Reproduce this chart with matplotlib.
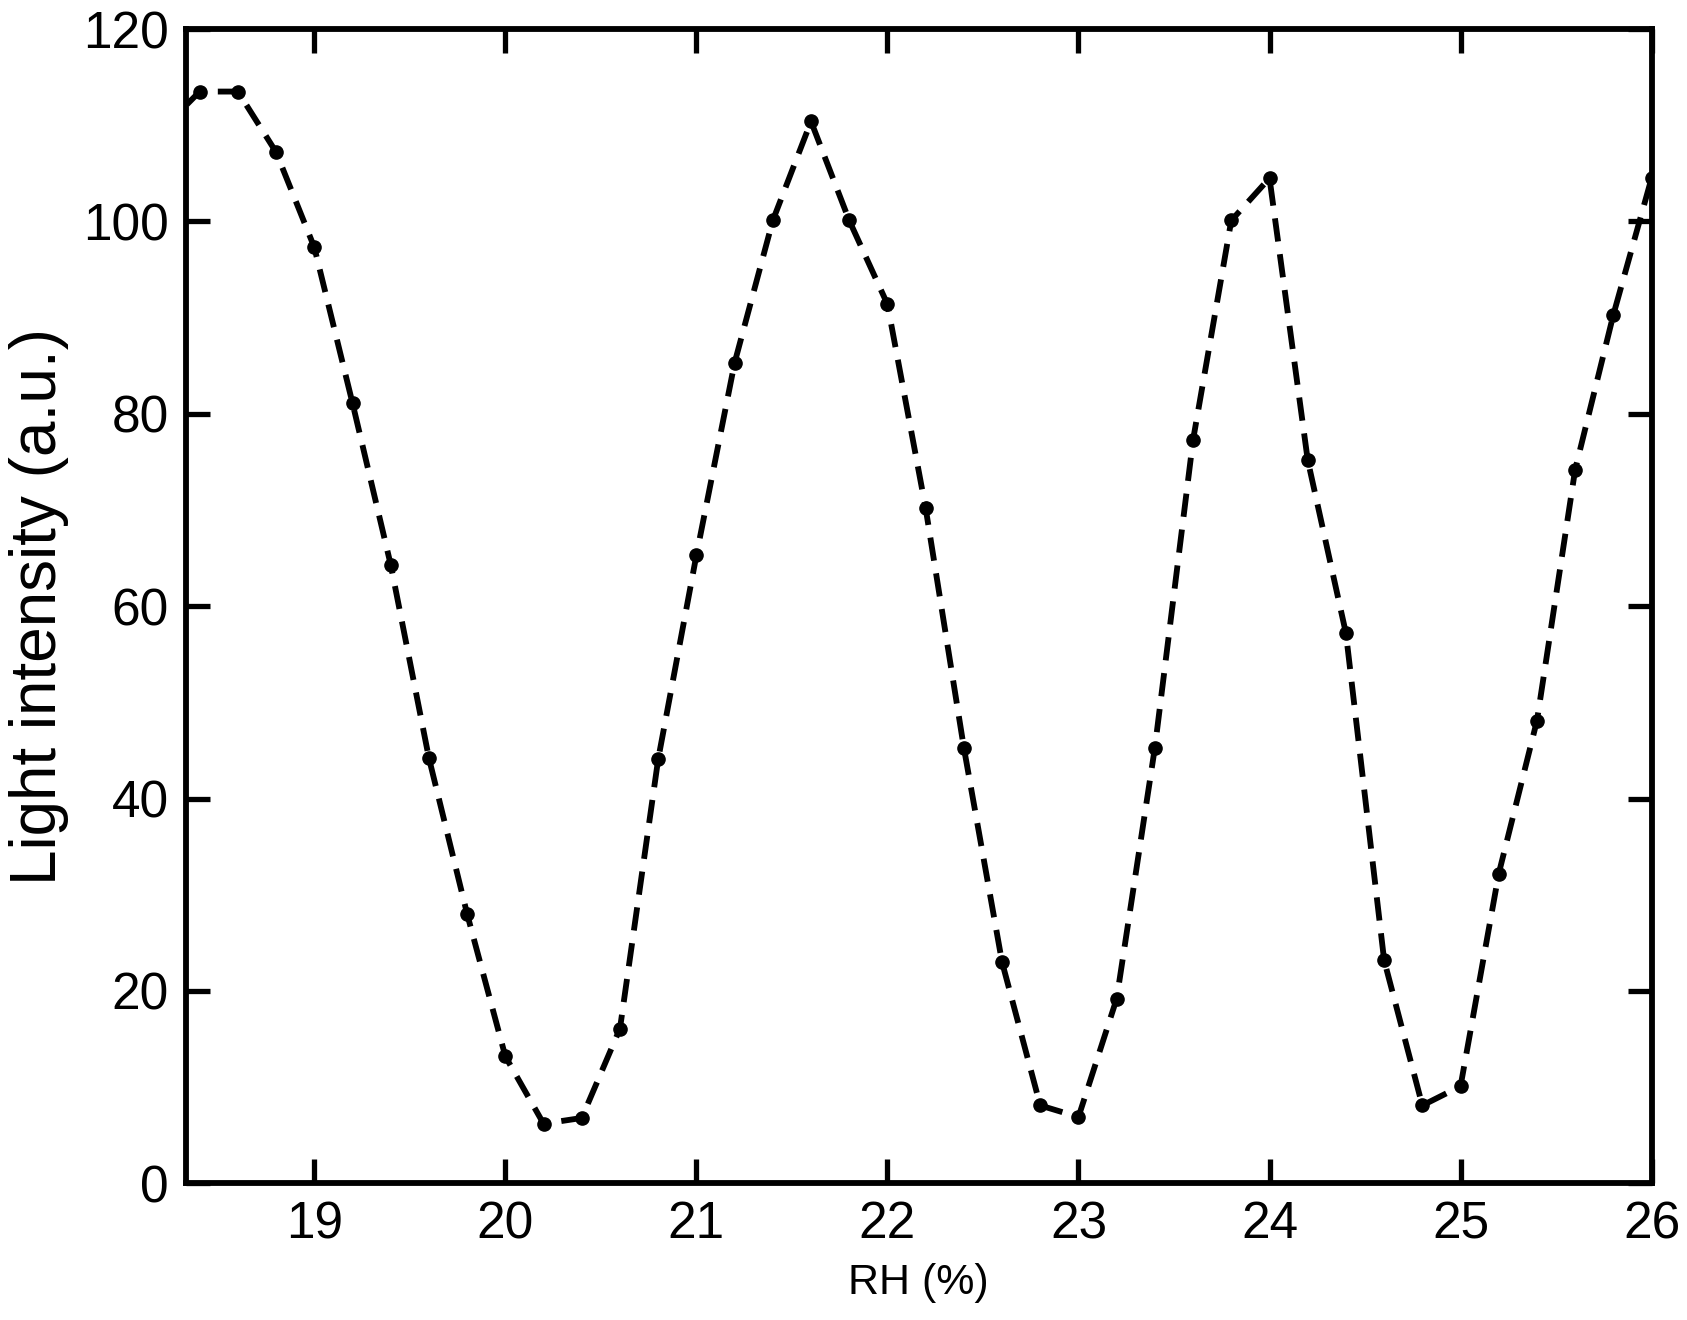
import matplotlib
matplotlib.use("Agg")
import matplotlib.pyplot as plt

plt.rcParams['font.family'] = ['Liberation Sans', 'DejaVu Sans']

# RH (%) sampling points and measured light intensity (a.u.)
rh = [18.2, 18.4, 18.6, 18.8, 19.0, 19.2, 19.4, 19.6, 19.8, 20.0,
      20.2, 20.4, 20.6, 20.8, 21.0, 21.2, 21.4, 21.6, 21.8, 22.0,
      22.2, 22.4, 22.6, 22.8, 23.0, 23.2, 23.4, 23.6, 23.8, 24.0,
      24.2, 24.4, 24.6, 24.8, 25.0, 25.2, 25.4, 25.6, 25.8, 26.0]
intensity = [109.5, 113.5, 113.5, 107.2, 97.3, 81.1, 64.3, 44.2, 28.0, 13.2,
             6.2, 6.8, 16.1, 44.1, 65.3, 85.3, 100.1, 110.4, 100.1, 91.4,
             70.2, 45.3, 23.0, 8.1, 6.9, 19.2, 45.3, 77.3, 100.1, 104.5,
             75.2, 57.2, 23.2, 8.1, 10.1, 32.2, 48.1, 74.2, 90.3, 104.5]

x_ticks = [19, 20, 21, 22, 23, 24, 25, 26]
y_ticks = [0, 20, 40, 60, 80, 100, 120]

fig = plt.figure(figsize=(16.87, 13.2), dpi=100)
ax = fig.add_axes([0.110, 0.1035, 0.869, 0.8745])

ax.plot(rh, intensity, color='black', linewidth=4.2, linestyle=(0, (4, 2.2)),
        marker='o', markersize=9.5, markerfacecolor='black', markeredgecolor='black')

ax.set_xlim(18.326, 26)
ax.set_ylim(0, 120)
ax.set_xticks(x_ticks)
ax.set_yticks(y_ticks)

ax.tick_params(direction='in', length=17, width=3.8, labelsize=37,
               top=True, right=True, pad=12)
for s in ax.spines.values():
    s.set_linewidth(4.2)

ax.set_xlabel("RH (%)", fontsize=31, labelpad=10)
ax.set_ylabel("Light intensity (a.u.)", fontsize=46, labelpad=10)

fig.savefig("out.png", dpi=100)
